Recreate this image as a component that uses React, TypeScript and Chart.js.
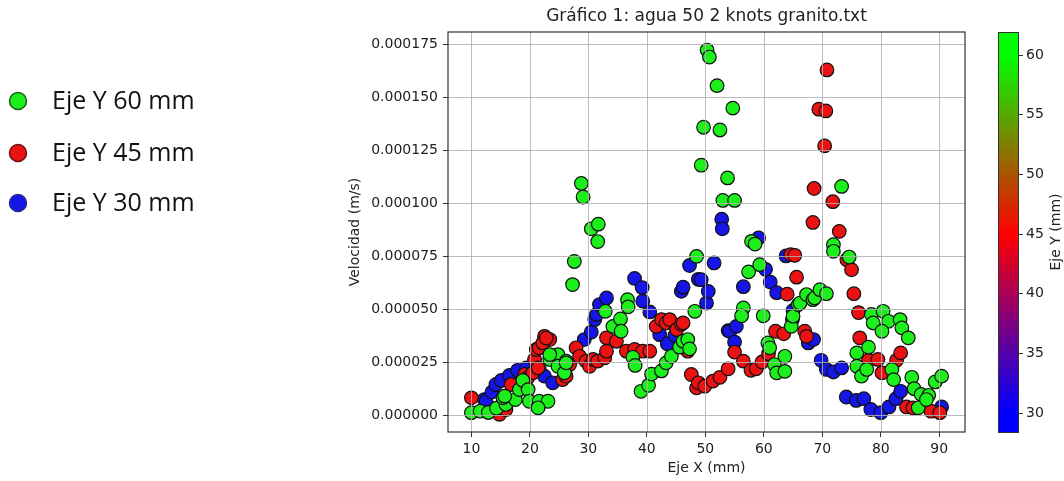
import React, { useEffect, useRef } from 'react';
import { Chart, registerables } from 'chart.js';

Chart.register(...registerables);

const titleText = 'Gráfico 1: agua 50 2 knots granito.txt';
const xTitle = 'Eje X (mm)';
const yTitle = 'Velocidad (m/s)';
const colorbarTitle = 'Eje Y (mm)';
const seriesNames = ['Eje Y 60 mm', 'Eje Y 45 mm', 'Eje Y 30 mm'];
const xTicks = [10, 20, 30, 40, 50, 60, 70, 80, 90];
// velocity in micrometres per second (labels shown in m/s)
const yTicks = [0, 25, 50, 75, 100, 125, 150, 175];
const colorbarTicks = [30, 35, 40, 45, 50, 55, 60];

// [x (mm), velocity (µm/s)]
const green60: [number, number][] = [
  [10.0, 1.3], [11.5, 2.0], [12.9, 1.4], [14.3, 3.4], [15.9, 5.2], [15.4, 8.3], [17.5, 7.5], [15.7, 9.1],
  [18.2, 12.2], [18.8, 16.5], [19.7, 12.2], [19.9, 6.7], [21.5, 4.4], [21.6, 6.7], [23.1, 6.7], [21.4, 3.6],
  [23.4, 26.4], [24.8, 28.7], [23.4, 28.7], [24.8, 23.2], [26.2, 25.6], [25.9, 20.1], [26.2, 24.8],
  [27.3, 61.7], [27.6, 72.6], [28.8, 109.4], [29.1, 103.0], [30.5, 88.0], [31.7, 90.2], [31.6, 82.0],
  [32.9, 49.1], [34.2, 42.0], [35.5, 45.5], [35.6, 39.7], [36.7, 54.6], [36.8, 51.2], [37.6, 27.5], [38.0, 23.6],
  [39.0, 11.4], [40.3, 14.2], [40.8, 19.5], [42.5, 21.0], [43.3, 24.8], [44.2, 27.9], [45.6, 32.2], [46.2, 35.0],
  [47.0, 35.8], [47.3, 31.4], [48.2, 49.1], [48.5, 75.0], [49.3, 118.0], [49.7, 135.9], [50.3, 172.3], [50.7, 169.0],
  [52.0, 155.5], [52.5, 134.6], [53.8, 112.0], [53.0, 101.4], [55.0, 101.4], [54.7, 144.9], [57.9, 82.1], [58.5, 80.8],
  [57.4, 67.7], [59.3, 71.1], [56.5, 50.7], [56.2, 47.0], [59.9, 47.0], [60.7, 34.2], [61.0, 31.9], [61.8, 24.0],
  [62.2, 20.1], [63.6, 27.9], [63.6, 20.8], [64.7, 42.0], [65.0, 46.8], [65.9, 52.3], [66.2, 53.0], [67.3, 57.0],
  [68.4, 54.6], [68.7, 55.4], [69.6, 59.3], [70.7, 57.4], [71.9, 80.5], [71.9, 77.4], [73.3, 108.0], [74.6, 74.7],
  [75.9, 29.5], [75.9, 23.2], [76.7, 18.5], [77.6, 21.7], [77.9, 32.2], [78.4, 47.6], [78.7, 43.6], [80.4, 49.1],
  [81.3, 44.4], [80.2, 39.7], [83.3, 45.2], [83.6, 41.3], [84.7, 36.6], [81.9, 21.7], [82.2, 16.9], [85.3, 18.0],
  [85.7, 12.6], [86.9, 9.9], [88.2, 9.5], [89.3, 15.8], [90.4, 18.5], [86.4, 3.6], [87.8, 7.5],
];

const red45: [number, number][] = [
  [10.0, 8.3], [14.8, 0.5], [15.9, 2.8], [16.8, 14.6], [19.1, 19.3], [19.6, 17.7], [20.5, 20.1], [20.8, 26.4],
  [21.1, 31.1], [21.4, 22.4], [21.6, 31.9], [22.5, 37.3], [23.4, 35.8], [22.2, 34.2], [22.8, 36.5], [25.6, 16.9],
  [26.2, 18.5], [26.8, 24.0], [27.9, 31.9], [28.5, 27.9], [29.6, 25.6], [30.2, 23.2], [30.8, 26.4], [31.6, 25.6],
  [32.8, 27.2], [33.1, 36.6], [34.8, 35.0], [33.1, 30.3], [36.5, 30.3], [37.9, 31.1], [39.3, 30.3], [40.5, 30.3],
  [41.6, 42.0], [42.5, 45.2], [43.3, 43.6], [43.9, 45.2], [45.1, 40.5], [45.9, 43.0], [46.2, 43.6], [47.0, 30.3],
  [47.6, 19.3], [48.5, 13.0], [48.8, 15.4], [49.9, 13.8], [51.3, 16.2], [52.5, 18.0], [53.9, 22.0], [55.0, 29.9],
  [56.5, 25.6], [57.8, 21.3], [58.7, 22.0], [59.7, 25.2], [60.8, 29.1], [62.0, 39.7], [63.4, 38.5], [64.0, 57.2],
  [64.6, 75.8], [65.3, 75.5], [65.6, 65.2], [67.0, 39.7], [67.3, 37.3], [68.4, 91.0], [68.6, 107.0], [69.4, 144.4],
  [70.6, 143.6], [70.4, 127.1], [70.8, 162.9], [71.8, 100.8], [72.9, 86.8], [74.2, 73.4], [75.0, 68.7], [75.4, 57.4],
  [76.2, 48.5], [76.4, 36.6], [77.9, 26.0], [79.5, 26.4], [80.2, 20.1], [82.7, 26.0], [83.4, 29.5], [84.4, 4.0],
  [85.5, 3.6], [88.6, 2.0], [90.1, 1.3],
];

const blue30: [number, number][] = [
  [12.2, 7.5], [12.5, 6.7], [13.5, 11.0], [14.2, 14.6], [15.1, 16.5], [16.5, 18.9], [17.9, 21.3], [19.4, 22.4],
  [21.6, 21.7], [22.5, 18.5], [23.9, 15.4], [29.3, 35.8], [30.5, 39.3], [31.1, 45.2], [31.4, 47.6], [31.9, 52.3],
  [33.1, 55.4], [37.9, 64.6], [39.2, 60.3], [39.3, 53.9], [40.5, 48.8], [42.2, 38.1], [43.5, 33.8], [44.8, 37.7],
  [45.9, 58.5], [46.2, 60.5], [47.3, 70.7], [48.8, 64.2], [49.3, 64.0], [50.2, 53.0], [50.5, 58.5], [51.5, 71.9],
  [52.8, 92.5], [52.9, 88.0], [53.9, 40.0], [54.2, 39.7], [55.3, 42.0], [55.0, 34.6], [56.5, 60.7], [59.1, 83.7],
  [60.3, 68.9], [61.1, 62.9], [62.2, 57.9], [63.8, 75.2], [65.0, 49.5], [64.9, 45.2], [67.6, 34.2], [68.5, 35.8],
  [69.8, 26.0], [70.7, 21.7], [71.9, 20.5], [73.3, 22.4], [74.1, 8.7], [75.8, 7.1], [77.1, 7.9], [78.3, 2.8],
  [80.0, 1.3], [81.4, 4.0], [82.6, 7.9], [83.4, 11.4], [90.4, 4.0],
];

const seriesColors = ['#1cef1c', '#ea1212', '#1515e6'];
const legendEdges = ['#1d5e1d', '#6e1010', '#2a2a8a'];

const CB_MIN = 28.4;
const CB_MAX = 61.9;

export default function App() {
  const ref = useRef<HTMLCanvasElement>(null);

  useEffect(() => {
    const canvas = ref.current;
    if (!canvas) return;
    const font = "'DejaVu Sans', sans-serif";

    const overlay = {
      id: 'overlay',
      afterDatasetsDraw(chart: any) {
        const { ctx, chartArea: a, scales } = chart;
        ctx.save();
        ctx.beginPath();
        ctx.rect(a.left, a.top, a.right - a.left, a.bottom - a.top);
        ctx.clip();
        ctx.strokeStyle = 'rgba(176,176,176,0.85)';
        ctx.lineWidth = 1;
        xTicks.forEach((v) => {
          const p = Math.round(scales.x.getPixelForValue(v)) + 0.5;
          ctx.beginPath();
          ctx.moveTo(p, a.top);
          ctx.lineTo(p, a.bottom);
          ctx.stroke();
        });
        yTicks.forEach((v) => {
          const p = Math.round(scales.y.getPixelForValue(v)) + 0.5;
          ctx.beginPath();
          ctx.moveTo(a.left, p);
          ctx.lineTo(a.right, p);
          ctx.stroke();
        });
        ctx.restore();
        ctx.save();
        ctx.strokeStyle = '#333';
        ctx.lineWidth = 1.2;
        ctx.strokeRect(a.left, a.top, a.right - a.left, a.bottom - a.top);
        ctx.restore();
      },
      afterDraw(chart: any) {
        const { ctx, chartArea: a } = chart;
        // colour bar
        const x0 = a.right + 33;
        const w = 20;
        const h = a.bottom - a.top;
        const pos = (v: number) => (v - CB_MIN) / (CB_MAX - CB_MIN);
        const g = ctx.createLinearGradient(0, a.bottom, 0, a.top);
        g.addColorStop(0, '#0000ff');
        g.addColorStop(pos(30), '#0000ff');
        g.addColorStop(pos(45), '#ff0000');
        g.addColorStop(pos(60), '#00ff00');
        g.addColorStop(1, '#00ff00');
        ctx.save();
        ctx.fillStyle = g;
        ctx.fillRect(x0, a.top, w, h);
        ctx.strokeStyle = '#333';
        ctx.lineWidth = 1;
        ctx.strokeRect(x0 + 0.5, a.top + 0.5, w, h);
        ctx.fillStyle = '#222';
        ctx.font = `14px ${font}`;
        ctx.textAlign = 'left';
        ctx.textBaseline = 'middle';
        colorbarTicks.forEach((v) => {
          const y = Math.round(a.bottom - pos(v) * h) + 0.5;
          ctx.beginPath();
          ctx.moveTo(x0 + w, y);
          ctx.lineTo(x0 + w + 5, y);
          ctx.stroke();
          ctx.fillText(String(v), x0 + w + 8, y);
        });
        ctx.translate(1056, (a.top + a.bottom) / 2);
        ctx.rotate(-Math.PI / 2);
        ctx.textAlign = 'center';
        ctx.fillText(colorbarTitle, 0, 0);
        ctx.restore();

        // legend
        ctx.save();
        const ys = [101, 153, 203];
        seriesNames.forEach((name, i) => {
          ctx.beginPath();
          ctx.arc(18, ys[i], 8.5, 0, Math.PI * 2);
          ctx.fillStyle = seriesColors[i];
          ctx.fill();
          ctx.lineWidth = 1.5;
          ctx.strokeStyle = legendEdges[i];
          ctx.stroke();
          ctx.fillStyle = '#111';
          ctx.font = "25px 'Open Sans', sans-serif";
          ctx.textAlign = 'left';
          ctx.textBaseline = 'middle';
          ctx.fillText(name, 52, ys[i] + 1);
        });
        ctx.restore();
      },
    };

    const mk = (pts: [number, number][], i: number) => ({
      label: seriesNames[i],
      data: pts.map(([x, y]) => ({ x, y })),
      backgroundColor: seriesColors[i],
      borderColor: '#111',
      borderWidth: 1.2,
      pointRadius: 6.8,
      pointHoverRadius: 6.8,
    });

    const chart = new Chart(canvas, {
      type: 'scatter',
      data: {
        datasets: [mk(green60, 0), mk(red45, 1), mk(blue30, 2)],
      },
      options: {
        animation: false,
        responsive: true,
        maintainAspectRatio: false,
        layout: { padding: { left: 343, right: 99, top: 0, bottom: 0 } },
        plugins: {
          legend: { display: false },
          tooltip: { enabled: false },
          title: {
            display: true,
            text: titleText,
            fullSize: false,
            color: '#222',
            font: { family: font, size: 17, weight: 'normal' },
            padding: { top: 6, bottom: 5.6 },
          },
        },
        scales: {
          x: {
            type: 'linear',
            min: 6,
            max: 94.4,
            afterBuildTicks: (s: any) => {
              s.ticks = xTicks.map((v) => ({ value: v }));
            },
            afterFit: (s: any) => {
              s.height = 49;
            },
            grid: { color: 'rgba(0,0,0,0)', tickColor: '#333', drawTicks: true, tickLength: 5 },
            border: { display: false },
            ticks: { color: '#222', font: { family: font, size: 14 }, padding: 4, maxRotation: 0 },
            title: { display: true, text: xTitle, color: '#222', font: { family: font, size: 14 }, padding: { top: 2, bottom: 4 } },
          },
          y: {
            type: 'linear',
            min: -7.8,
            max: 180.8,
            afterBuildTicks: (s: any) => {
              s.ticks = yTicks.map((v) => ({ value: v }));
            },
            afterFit: (s: any) => {
              s.width = 105;
            },
            grid: { color: 'rgba(0,0,0,0)', tickColor: '#333', drawTicks: true, tickLength: 5 },
            border: { display: false },
            ticks: {
              color: '#222',
              font: { family: font, size: 14 },
              padding: 5,
              callback: (v: any) => (Number(v) / 1e6).toFixed(6),
            },
            title: { display: true, text: yTitle, color: '#222', font: { family: font, size: 14 }, padding: { top: 4, bottom: 4 } },
          },
        },
      },
      plugins: [overlay],
    } as any);

    return () => chart.destroy();
  }, []);

  return (
    <div style={{ position: 'fixed', left: 0, top: 0, width: 1064, height: 481, background: '#fff' }}>
      <canvas ref={ref} />
    </div>
  );
}
